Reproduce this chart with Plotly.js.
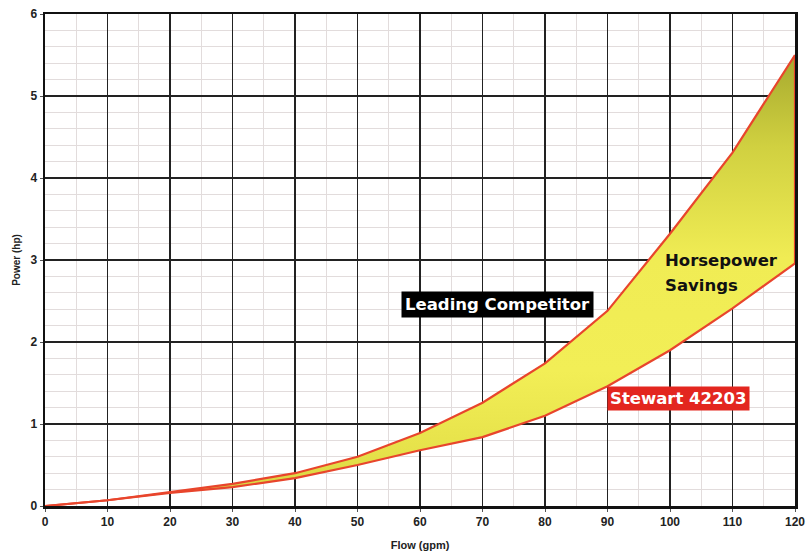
<!DOCTYPE html>
<html>
<head>
<meta charset="utf-8">
<script src="https://cdn.plot.ly/plotly-3.0.1.min.js"></script>
<style>
html,body{margin:0;padding:0;background:#fff;}
#chart{width:809px;height:553px;}
</style>
</head>
<body>
<div id="chart"></div>
<script>
// Data
const flow = [0, 10, 20, 30, 40, 50, 60, 70, 80, 90, 100, 110, 120];
const competitorHp = [0, 0.07, 0.17, 0.27, 0.40, 0.60, 0.89, 1.26, 1.74, 2.38, 3.32, 4.31, 5.50];
const stewartHp = [0, 0.07, 0.16, 0.23, 0.34, 0.50, 0.68, 0.84, 1.10, 1.46, 1.90, 2.41, 2.96];
const xTicks = [0, 10, 20, 30, 40, 50, 60, 70, 80, 90, 100, 110, 120];
const yTicks = [0, 1, 2, 3, 4, 5, 6];

const lineColor = '#e8452c';
const last = flow.length - 1;

const traces = [
  {
    x: flow, y: stewartHp, type: 'scatter', mode: 'lines',
    line: {color: lineColor, width: 2.2},
    hoverinfo: 'skip', showlegend: false
  },
  {
    x: flow, y: competitorHp, type: 'scatter', mode: 'lines',
    fill: 'tonexty',
    fillgradient: {
      type: 'vertical',
      colorscale: [[0, '#d2cf3e'], [0.12, '#e6e24a'], [0.3, '#f2ee56'], [0.55, '#f0ec54'], [0.8, '#d0d040'], [1, '#a6a92e']]
    },
    line: {color: lineColor, width: 2.2},
    hoverinfo: 'skip', showlegend: false
  },
  {
    x: [flow[last], flow[last]], y: [stewartHp[last], competitorHp[last]],
    type: 'scatter', mode: 'lines',
    line: {color: lineColor, width: 2.2},
    hoverinfo: 'skip', showlegend: false
  }
];

const tickFont = {family: 'Liberation Sans, Arial, sans-serif', size: 12, color: '#222'};
const labelFamily = 'DejaVu Sans, Verdana, sans-serif';

const layout = {
  width: 809, height: 553,
  margin: {l: 45, r: 14, t: 14, b: 47},
  paper_bgcolor: '#ffffff',
  plot_bgcolor: '#ffffff',
  showlegend: false,
  xaxis: {
    range: [0, 120],
    tickvals: xTicks, ticktext: xTicks.map(v => '<b>' + v + '</b>'),
    tickfont: tickFont,
    ticks: 'outside', ticklen: 3, tickcolor: '#555',
    showgrid: true, gridcolor: '#222222', gridwidth: 1.7,
    minor: {dtick: 5, showgrid: true, gridcolor: '#e2dcdc', gridwidth: 1},
    zeroline: false,
    showline: true, linecolor: '#111', linewidth: 2.5, mirror: true,
    title: {text: '<b>Flow (gpm)</b>', font: {family: 'Liberation Sans, Arial, sans-serif', size: 11, color: '#222'}, standoff: 14},
    fixedrange: true
  },
  yaxis: {
    range: [0, 6],
    tickvals: yTicks, ticktext: yTicks.map(v => '<b>' + v + '</b>'),
    tickfont: tickFont,
    ticks: 'outside', ticklen: 3, tickcolor: '#555',
    showgrid: true, gridcolor: '#222222', gridwidth: 1.7,
    minor: {dtick: 0.2, showgrid: true, gridcolor: '#e2dcdc', gridwidth: 1},
    zeroline: false,
    showline: true, linecolor: '#111', linewidth: 2.5, mirror: true,
    title: {text: '<b>Power (hp)</b>', font: {family: 'Liberation Sans, Arial, sans-serif', size: 10, color: '#222'}, standoff: 8},
    fixedrange: true
  },
  annotations: [
    {
      x: 72.4, y: 2.46, xref: 'x', yref: 'y', showarrow: false,
      text: '<b>Leading Competitor</b>',
      font: {family: labelFamily, size: 16.5, color: '#ffffff'},
      bgcolor: '#000000', borderpad: 3
    },
    {
      x: 101.3, y: 1.31, xref: 'x', yref: 'y', showarrow: false,
      text: '<b>Stewart 42203</b>',
      font: {family: labelFamily, size: 16.5, color: '#ffffff'},
      bgcolor: '#e3261f', borderpad: 2
    },
    {
      x: 98.8, y: 2.99, xref: 'x', yref: 'y', showarrow: false,
      xanchor: 'left',
      text: '<b>Horsepower</b>',
      font: {family: labelFamily, size: 16.5, color: '#111111'}
    },
    {
      x: 98.8, y: 2.69, xref: 'x', yref: 'y', showarrow: false,
      xanchor: 'left',
      text: '<b>Savings</b>',
      font: {family: labelFamily, size: 16.5, color: '#111111'}
    }
  ]
};

Plotly.newPlot('chart', traces, layout, {displayModeBar: false, staticPlot: true});
</script>
</body>
</html>
